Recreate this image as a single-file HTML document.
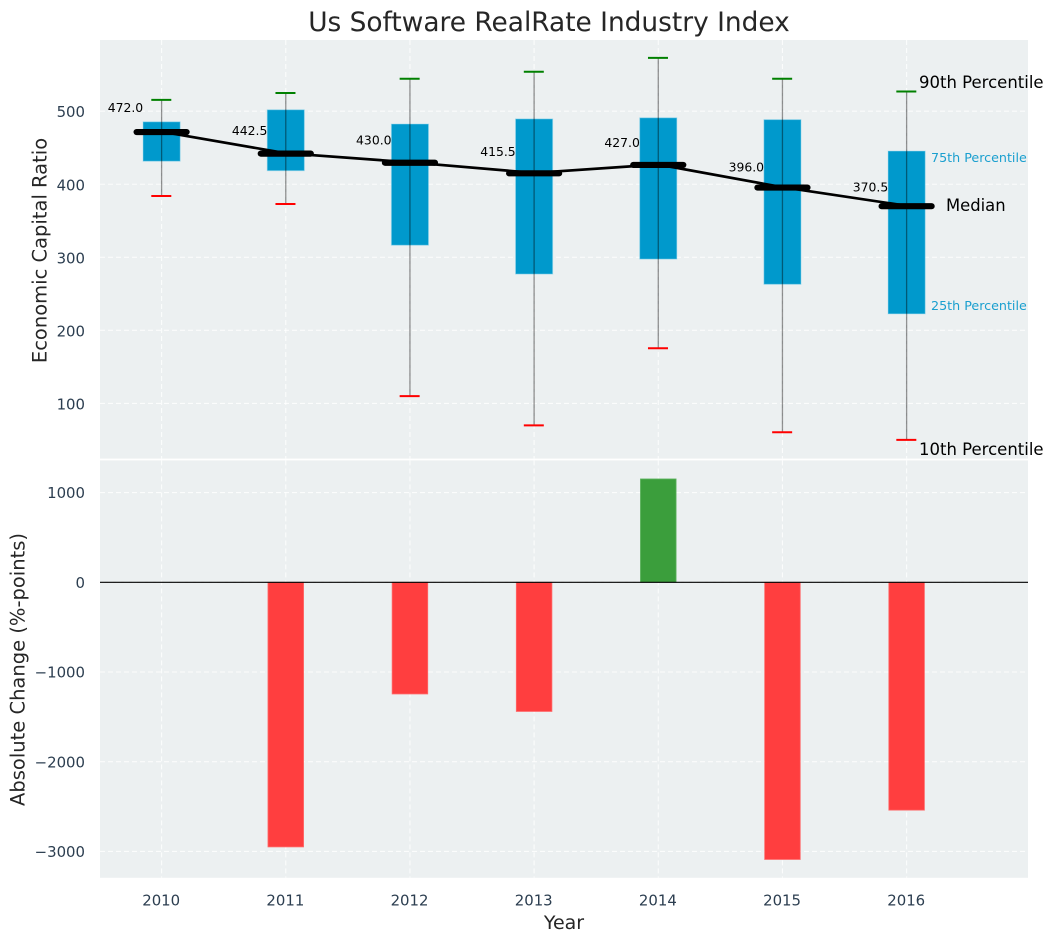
<!DOCTYPE html>
<html lang="en">
<head>
<meta charset="utf-8">
<title>Us Software RealRate Industry Index</title>
<style>
html,body{margin:0;padding:0;background:#fff;}
svg{display:block;font-family:"DejaVu Sans","Liberation Sans",sans-serif;}
</style>
</head>
<body>
<svg id="chart" xmlns="http://www.w3.org/2000/svg" width="1054" height="942" viewBox="0 0 1054 942">
  <rect x="0" y="0" width="1054" height="942" fill="#ffffff"/>
  <rect x="100" y="40" width="928" height="418.6" fill="#ecf0f1"/>
  <rect x="100" y="460.4" width="928" height="417.4" fill="#ecf0f1"/>
  <g id="grid"></g>
  <g id="boxes"></g>
  <g id="bars"></g>
  <g id="ticks" font-size="14.9" fill="#2c3e50"></g>
  <text x="549" y="31" text-anchor="middle" font-size="26.4" fill="#262626">Us Software RealRate Industry Index</text>
  <text transform="translate(46.5 250.5) rotate(-90)" text-anchor="middle" font-size="19.5" fill="#262626">Economic Capital Ratio</text>
  <text transform="translate(24.5 669.5) rotate(-90)" text-anchor="middle" font-size="19.5" fill="#262626">Absolute Change (%-points)</text>
  <text x="564" y="929" text-anchor="middle" font-size="19" fill="#262626">Year</text>
  <text x="919" y="88" font-size="16.5" fill="#000000">90th Percentile</text>
  <text x="919" y="455" font-size="16.5" fill="#000000">10th Percentile</text>
  <text x="946" y="211" font-size="16.4" fill="#000000">Median</text>
  <text x="931" y="162" font-size="12.7" fill="#1a9fcf">75th Percentile</text>
  <text x="931" y="310" font-size="12.7" fill="#1a9fcf">25th Percentile</text>
</svg>
<script>
const years = [2010, 2011, 2012, 2013, 2014, 2015, 2016];
const p90 = [515.5, 525, 544.5, 554, 573, 544.5, 527];
const p75 = [485.5, 502, 482.5, 489.5, 491, 488.5, 445.5];
const medians = [472.0, 442.5, 430.0, 415.5, 427.0, 396.0, 370.5];
const p25 = [431.5, 418.5, 316.5, 277, 297.5, 263, 222.5];
const p10 = [384, 373, 110, 70, 175.5, 60.5, 50];
const changes = [null, -2950, -1245, -1440, 1152, -3090, -2540];
const topTicks = [100, 200, 300, 400, 500];
const bottomTicks = [-3000, -2000, -1000, 0, 1000];

const NS = 'http://www.w3.org/2000/svg';
const x = year => 161.6 + (year - 2010) * 124.17;
const yTop = v => 111.2 + (500 - v) * 0.7305;
const yBottom = v => 582.3 - v * 0.0897;
const panelTop = [40, 458.6];
const panelBottom = [460.4, 877.8];

function make(tag, parent, attrs, text) {
  const el = document.createElementNS(NS, tag);
  for (const k in attrs) el.setAttribute(k, attrs[k]);
  if (text !== undefined) el.textContent = text;
  parent.appendChild(el);
  return el;
}
const grid = document.getElementById('grid');
const boxes = document.getElementById('boxes');
const bars = document.getElementById('bars');
const ticks = document.getElementById('ticks');
const gridStyle = {stroke: '#ffffff', 'stroke-width': 1.1, 'stroke-dasharray': '5 3', 'stroke-opacity': 0.8};

years.forEach(yr => {
  [panelTop, panelBottom].forEach(p => {
    const g = make('line', grid, Object.assign({x1: x(yr), x2: x(yr), y1: p[0], y2: p[1]}, gridStyle));
    
    
  });
  const t = make('text', ticks, {x: x(yr) - 0.4, y: 905.4, 'text-anchor': 'middle'}, String(yr));
  
  
});
topTicks.forEach(v => {
  const g = make('line', grid, Object.assign({x1: 100, x2: 1028, y1: yTop(v), y2: yTop(v)}, gridStyle));
  
  
  const t = make('text', ticks, {x: 85, y: yTop(v) + 6, 'text-anchor': 'end'}, String(v));
  
  
});
bottomTicks.forEach(v => {
  const g = make('line', grid, Object.assign({x1: 100, x2: 1028, y1: yBottom(v), y2: yBottom(v)}, gridStyle));
  
  
  const label = v < 0 ? '\u2212' + Math.abs(v) : String(v);
  const t = make('text', ticks, {x: 85, y: yBottom(v) + 5.6, 'text-anchor': 'end'}, label);
  
  
});

years.forEach((yr, i) => {
  const cx = x(yr);
  const box = make('rect', boxes, {x: cx - 18.6, width: 37.2, y: yTop(p75[i]), height: yTop(p25[i]) - yTop(p75[i]), fill: '#0099cc', stroke: '#9fdcf0', 'stroke-opacity': 0.5, 'stroke-width': 1});
  
  
  const w = make('line', boxes, {x1: cx, x2: cx, y1: yTop(p90[i]), y2: yTop(p10[i]), stroke: '#000000', 'stroke-opacity': 0.42, 'stroke-width': 1.3});
  
  
  const hi = make('line', boxes, {x1: cx - 10.3, x2: cx + 9.7, y1: yTop(p90[i]), y2: yTop(p90[i]), stroke: '#008000', 'stroke-width': 2});
  
  
  const lo = make('line', boxes, {x1: cx - 10.3, x2: cx + 9.7, y1: yTop(p10[i]), y2: yTop(p10[i]), stroke: '#ff0000', 'stroke-width': 2});
  
  
});

const medianPoints = years.map((yr, i) => x(yr) + ',' + yTop(medians[i])).join(' ');
const medianLine = make('polyline', boxes, {points: medianPoints, fill: 'none', stroke: '#000000', 'stroke-width': 2.7});



years.forEach((yr, i) => {
  const cx = x(yr);
  const m = make('line', boxes, {x1: cx - 25, x2: cx + 25, y1: yTop(medians[i]) + 0.4, y2: yTop(medians[i]) + 0.4, stroke: '#000000', 'stroke-width': 6.2, 'stroke-linecap': 'round'});
  
  
  const t = make('text', boxes, {x: cx - 18.4, y: yTop(medians[i] * 1.07) + 4.4, 'text-anchor': 'end', 'font-size': 12.4, fill: '#000000'}, medians[i].toFixed(1));
  
  
});

years.forEach((yr, i) => {
  const v = changes[i];
  if (v === null) return;
  const top = Math.min(yBottom(v), yBottom(0));
  const h = Math.abs(yBottom(v) - yBottom(0));
  const b = make('rect', bars, {x: x(yr) - 17.8, width: 35.6, y: top, height: h, fill: v < 0 ? '#ff3e3f' : '#3b9e3c', stroke: v < 0 ? '#ff6a6a' : '#5db35d', 'stroke-width': 0.8});
  
  
});
const zero = make('line', bars, {x1: 100, x2: 1028, y1: yBottom(0), y2: yBottom(0), stroke: '#000000', 'stroke-width': 1.2});


</script>
</body>
</html>
